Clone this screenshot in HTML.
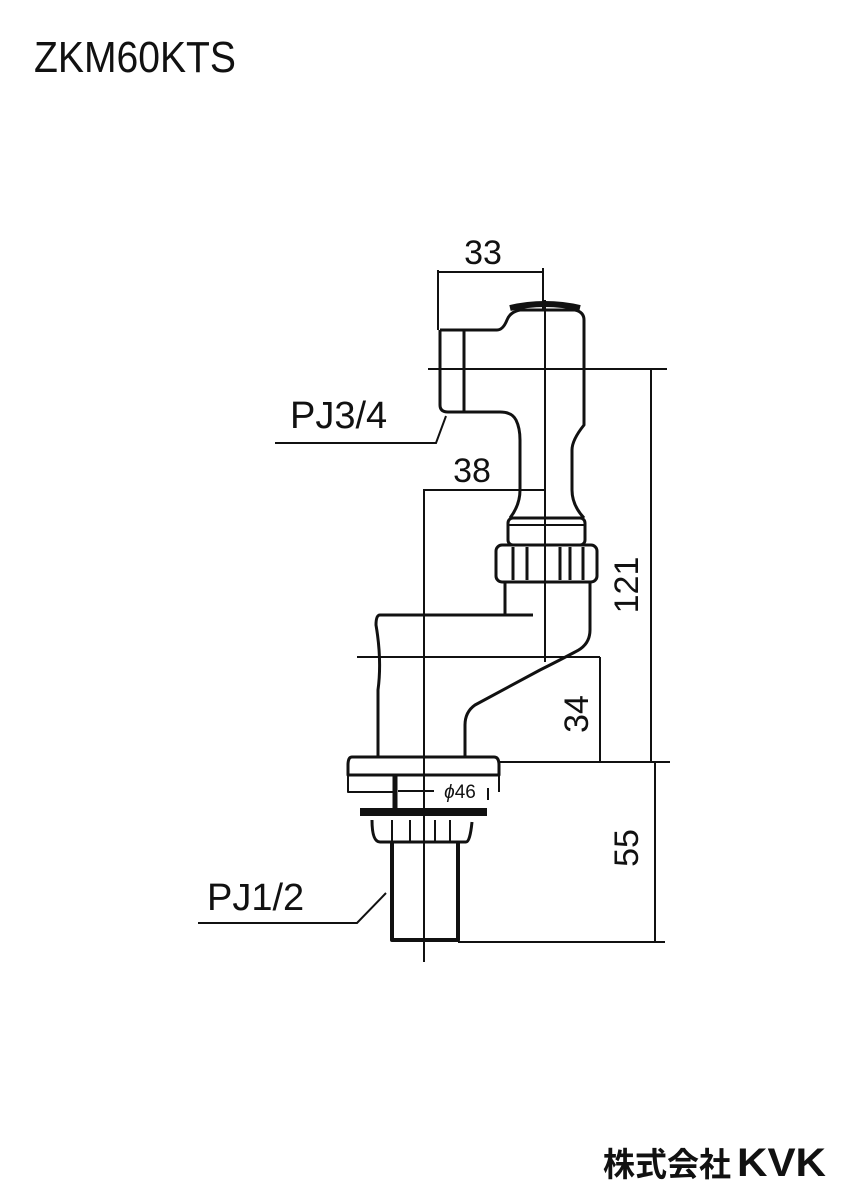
<!DOCTYPE html>
<html><head><meta charset="utf-8"><style>
html,body{margin:0;padding:0;background:#fff}
svg{display:block}
text{font-family:"Liberation Sans","Noto Sans CJK JP",sans-serif;fill:#111}
</style></head><body>
<svg width="849" height="1200" viewBox="0 0 849 1200" xmlns="http://www.w3.org/2000/svg">
<text x="34" y="72" font-size="44" textLength="202" lengthAdjust="spacingAndGlyphs">ZKM60KTS</text>

<g fill="none" stroke="#111" stroke-width="2">
<!-- 33 dim -->
<line x1="438" y1="272" x2="543" y2="272"/>
<line x1="438" y1="270" x2="438" y2="330"/>
<line x1="543" y1="268" x2="543" y2="310"/>
<!-- centerline -->
<line x1="545" y1="300" x2="545" y2="662"/>
<!-- 121 extension lines -->
<line x1="428" y1="369" x2="667" y2="369"/>
<line x1="651" y1="369" x2="651" y2="762"/>
<!-- 38 dim -->
<line x1="423" y1="490" x2="545" y2="490"/>
<line x1="424" y1="490" x2="424" y2="962"/>
<!-- 34 ext -->
<line x1="357" y1="657" x2="600" y2="657"/>
<line x1="600" y1="657" x2="600" y2="762"/>
<line x1="498" y1="762" x2="670" y2="762"/>
<!-- 55 -->
<line x1="655" y1="762" x2="655" y2="942"/>
<line x1="458" y1="942" x2="665" y2="942"/>
<line x1="575" y1="257" x2="575" y2="257"/>
</g>

<g fill="none" stroke="#111" stroke-width="3" stroke-linejoin="round">
<!-- top elbow -->
<path d="M440 330 H497 Q503 330 507 320 Q510 312 520 310 H575 Q584 312 584 320 V425 Q572 440 572 450 V490 Q572 505 584 518"/>
<path d="M440 330 V405 Q440 412 448 412 H500 Q512 412 516 420 Q520 428 520 440 V490 Q520 505 510 518"/>
<line x1="464" y1="330" x2="464" y2="412"/>
<path d="M510 308 Q545 300 580 308" stroke-width="6"/>
<!-- collar -->
<rect x="508" y="518" width="77" height="27" rx="5"/>
<line x1="508" y1="525" x2="585" y2="525" stroke-width="2"/>
<!-- nut -->
<rect x="496" y="545" width="101" height="37" rx="6"/>
<line x1="513" y1="547" x2="513" y2="580"/>
<line x1="527" y1="547" x2="527" y2="580"/>
<line x1="560" y1="547" x2="560" y2="580"/>
<line x1="570" y1="547" x2="570" y2="580"/>
<line x1="583" y1="547" x2="583" y2="580"/>
<!-- lower elbow -->
<path d="M505 582 V615 H380 Q376 615 376 625 Q382 660 378 690 V757"/>
<path d="M590 582 V630 Q590 645 575 652 Q560 660 540 670 L475 705 Q465 712 465 725 V757"/>
<line x1="505" y1="615" x2="533" y2="615"/>
<!-- base plate -->
<path d="M352 757 H494 Q499 757 499 765 V775 H348 V765 Q348 757 352 757 Z"/>
<path d="M348 775 V792 H395 M499 775 V792" stroke-width="2"/>
<line x1="395" y1="775" x2="395" y2="810" stroke-width="5"/>
<!-- washer -->
<path d="M360 812 H487" stroke-width="8"/>
<path d="M372 820 Q372 842 380 842 H466 Q470 842 472 822"/>
<path d="M392 820 V842 M410 820 V842 M435 820 V842 M450 820 V842" stroke-width="2"/>
<!-- pipe -->
<path d="M392 842 V940 H458 V842" stroke-width="4"/>
<line x1="424" y1="942" x2="424" y2="962" stroke-width="2"/>
</g>

<!-- leaders -->
<g fill="none" stroke="#111" stroke-width="2">
<path d="M275 443 H436 L446 416"/>
<path d="M198 923 H357 L386 893"/>
<line x1="398" y1="791" x2="434" y2="791"/>
<line x1="488" y1="788" x2="488" y2="800"/>
</g>

<text x="483" y="264" font-size="34" text-anchor="middle">33</text>
<text x="472" y="482" font-size="34" text-anchor="middle">38</text>
<text x="290" y="428" font-size="38">PJ3/4</text>
<text x="207" y="910" font-size="38">PJ1/2</text>
<text x="460" y="798" font-size="19" text-anchor="middle"><tspan font-style="italic">ϕ</tspan>46</text>
<text transform="translate(638 585) rotate(-90)" font-size="34" text-anchor="middle">121</text>
<text transform="translate(588 714) rotate(-90)" font-size="34" text-anchor="middle">34</text>
<text transform="translate(638 848) rotate(-90)" font-size="34" text-anchor="middle">55</text>

<text x="603" y="1176" font-size="33" font-weight="bold" textLength="128" lengthAdjust="spacingAndGlyphs">株式会社</text>
<text x="737" y="1176" font-size="40" font-weight="bold" textLength="89" lengthAdjust="spacingAndGlyphs">KVK</text>
</svg>
</body></html>
